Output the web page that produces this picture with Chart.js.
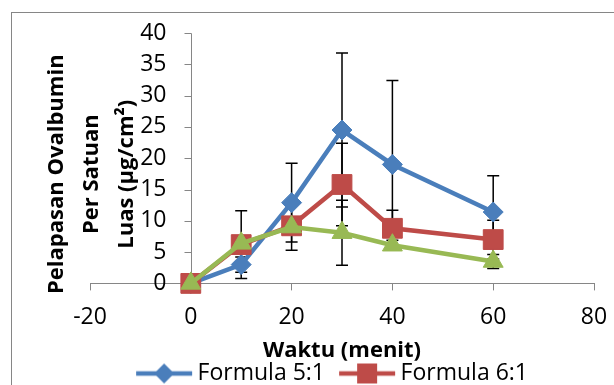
<!DOCTYPE html>
<html>
<head>
<meta charset="utf-8">
<script src="https://cdn.jsdelivr.net/npm/chart.js@4.4.1/dist/chart.umd.min.js"></script>
<style>
    html, body { margin: 0; padding: 0; background: #fff; overflow: hidden; }
    body { width: 614px; height: 385px; position: relative; }
    #frame { position: absolute; left: 11px; top: 12px; width: 700px; height: 500px; border: 1px solid #868686; }
    #wrap { position: absolute; left: 38px; top: 13px; width: 574px; height: 405px; }
</style>
</head>
<body>
<div id="frame"></div>
<div id="wrap"><canvas id="chart"></canvas></div>
<script>
// time points (menit)
const waktu = [0, 10, 20, 30, 40, 60];

const seriesNames = ['Formula 5:1', 'Formula 6:1', 'Formula 7:1'];
const formula51 = [0, 3.0, 12.9, 24.5, 19.0, 11.4];
const formula61 = [0, 6.2, 9.2, 15.8, 8.8, 7.0];
const formula71 = [0, 6.4, 9.0, 8.1, 6.1, 3.5];

// error bar half-lengths (SD)
const sd51 = [0, 1.2, 6.3, 12.3, 13.4, 5.8];
const sd61 = [0, 5.4, 3.9, 6.6, 2.9, 3.1];
const sd71 = [0, 1.0, 1.0, 5.2, 0.8, 1.1];

const xMin = -20, xMax = 80, xStep = 20;
const yMin = 0, yMax = 40, yStep = 5;

const xTitle = 'Waktu (menit)';
const yTitleLines = ['Pelapasan Ovalbumin', 'Per Satuan', 'Luas (µg/cm²)'];

const colors = ['#4A7EBB', '#BE4B48', '#98B954'];
const markers = ['rectRot', 'rect', 'triangle'];
const markerRadius = [10, 14, 11.5];
const axisGray = '#868686';

Chart.defaults.font.family = '"Open Sans", sans-serif';
Chart.defaults.color = '#000';

// legend icons: line with marker, sized so the text lands where Excel put it
const LEGEND_FONT = 23;
const measureCtx = document.createElement('canvas').getContext('2d');
measureCtx.font = LEGEND_FONT + 'px "Open Sans"';
const textW = measureCtx.measureText(seriesNames[0]).width;
const itemStep = 203;
const legendBoxW = itemStep - LEGEND_FONT / 2 - textW;

const makeIcon = (idx) => {
    const c = legendBoxW / 2;
    const lineStart = itemStep - textW - 61;
    const lineEnd = lineStart + 56;
    const h = Math.max(c - lineStart, lineEnd - c);
    const cv = document.createElement('canvas');
    cv.width = Math.ceil(2 * h);
    cv.height = 26;
    const g = cv.getContext('2d');
    const x0 = lineStart - (c - h);
    const mid = cv.height / 2;
    g.strokeStyle = colors[idx];
    g.fillStyle = colors[idx];
    g.lineWidth = 4.5;
    g.beginPath();
    g.moveTo(x0, mid);
    g.lineTo(x0 + 56, mid);
    g.stroke();
    const mx = x0 + 28;
    g.beginPath();
    if (idx === 0) {
        g.moveTo(mx, mid - 10); g.lineTo(mx + 10, mid); g.lineTo(mx, mid + 10); g.lineTo(mx - 10, mid);
    } else if (idx === 1) {
        g.rect(mx - 10, mid - 10, 20, 20);
    } else {
        g.moveTo(mx, mid - 11); g.lineTo(mx + 10, mid + 6); g.lineTo(mx - 10, mid + 6);
    }
    g.closePath();
    g.fill();
    return cv;
};
const legendIcons = [0, 1, 2].map(makeIcon);

const errorSets = [sd51, sd61, sd71];

const errorBarPlugin = {
    id: 'errorBars',
    beforeDatasetsDraw(chart) {
        const { ctx, scales: { x, y } } = chart;
        ctx.save();
        ctx.strokeStyle = '#000';
        ctx.lineWidth = 1.5;
        chart.data.datasets.forEach((ds, i) => {
            ds.data.forEach((pt, j) => {
                const e = errorSets[i][j];
                if (!e) return;
                const px = x.getPixelForValue(pt.x);
                const top = y.getPixelForValue(pt.y + e);
                const bot = y.getPixelForValue(pt.y - e);
                ctx.beginPath();
                ctx.moveTo(px, top); ctx.lineTo(px, bot);
                ctx.moveTo(px - 6, top); ctx.lineTo(px + 6, top);
                ctx.moveTo(px - 6, bot); ctx.lineTo(px + 6, bot);
                ctx.stroke();
            });
        });
        ctx.restore();
    }
};

// value axis crosses the category axis at x = 0 (Excel style)
const yAxisPlugin = {
    id: 'yAxisAtZero',
    beforeDatasetsDraw(chart) {
        const { ctx, scales: { x, y } } = chart;
        const px = Math.round(x.getPixelForValue(0)) + 0.5;
        ctx.save();
        ctx.strokeStyle = axisGray;
        ctx.lineWidth = 1;
        ctx.beginPath();
        ctx.moveTo(px, Math.round(y.getPixelForValue(yMax)) + 0.5);
        ctx.lineTo(px, Math.round(y.getPixelForValue(yMin)) + 0.5);
        y.ticks.forEach(t => {
            const py = Math.round(y.getPixelForValue(t.value)) + 0.5;
            ctx.moveTo(px - 7, py);
            ctx.lineTo(px, py);
        });
        ctx.stroke();
        ctx.fillStyle = '#000';
        ctx.font = '23px "Open Sans"';
        ctx.textAlign = 'right';
        ctx.textBaseline = 'middle';
        y.ticks.forEach(t => {
            ctx.fillText(String(t.value), px - 25, y.getPixelForValue(t.value));
        });
        ctx.restore();
    }
};

const yTitlePlugin = {
    id: 'yTitle',
    afterDraw(chart) {
        const { ctx, chartArea, scales } = chart;
        const x0 = scales.x.getPixelForValue(0);
        const cy = (chartArea.top + chartArea.bottom) / 2 + 16;
        ctx.save();
        ctx.font = 'bold 22px "Open Sans"';
        ctx.fillStyle = '#000';
        ctx.textAlign = 'center';
        ctx.textBaseline = 'middle';
        yTitleLines.forEach((line, i) => {
            ctx.save();
            ctx.translate(x0 - 134 + i * 35, cy);
            ctx.rotate(-Math.PI / 2);
            ctx.fillText(line, 0, 0);
            ctx.restore();
        });
        ctx.restore();
    }
};

const values = [formula51, formula61, formula71];
const datasets = values.map((vals, i) => ({
    label: seriesNames[i],
    data: waktu.map((t, j) => ({ x: t, y: vals[j] })),
    borderColor: colors[i],
    backgroundColor: colors[i],
    borderWidth: 4.5,
    tension: 0,
    pointStyle: markers[i],
    pointRadius: markerRadius[i],
    pointHoverRadius: markerRadius[i],
    pointBorderWidth: 1,
    pointBackgroundColor: colors[i],
    pointBorderColor: colors[i],
    clip: false,
    order: 2 - i,
}));

new Chart(document.getElementById('chart'), {
    type: 'line',
    data: { datasets },
    options: {
        responsive: true,
        maintainAspectRatio: false,
        animation: false,
        layout: { padding: { top: 20, left: 0, right: 0, bottom: 0 } },
        scales: {
            x: {
                type: 'linear',
                min: xMin,
                max: xMax,
                ticks: { stepSize: xStep, padding: 13, font: { size: 23 }, color: '#000', maxRotation: 0 },
                grid: { display: true, drawOnChartArea: false, drawTicks: true, tickLength: 7, color: axisGray },
                border: { display: true, color: axisGray, width: 1 },
                title: { display: true, text: xTitle, font: { size: 22, weight: 'bold', lineHeight: 1 }, padding: { top: -4, bottom: 0 }, color: '#000' },
                afterFit: (s) => { s.paddingLeft = 52; s.paddingRight = 18; },
            },
            y: {
                type: 'linear',
                display: false,
                min: yMin,
                max: yMax,
                ticks: { stepSize: yStep, autoSkip: false },
            },
        },
        plugins: {
            legend: {
                position: 'bottom',
                labels: {
                    usePointStyle: true,
                    pointStyleWidth: legendBoxW,
                    padding: 0,
                    font: { size: LEGEND_FONT },
                    color: '#000',
                    generateLabels(chart) {
                        const items = Chart.defaults.plugins.legend.labels.generateLabels(chart);
                        items.forEach(it => { it.pointStyle = legendIcons[it.datasetIndex]; });
                        return items;
                    },
                    sort: (a, b) => a.datasetIndex - b.datasetIndex,
                },
            },
            tooltip: { enabled: false },
        },
    },
    plugins: [errorBarPlugin, yAxisPlugin, yTitlePlugin],
});
</script>
</body>
</html>
